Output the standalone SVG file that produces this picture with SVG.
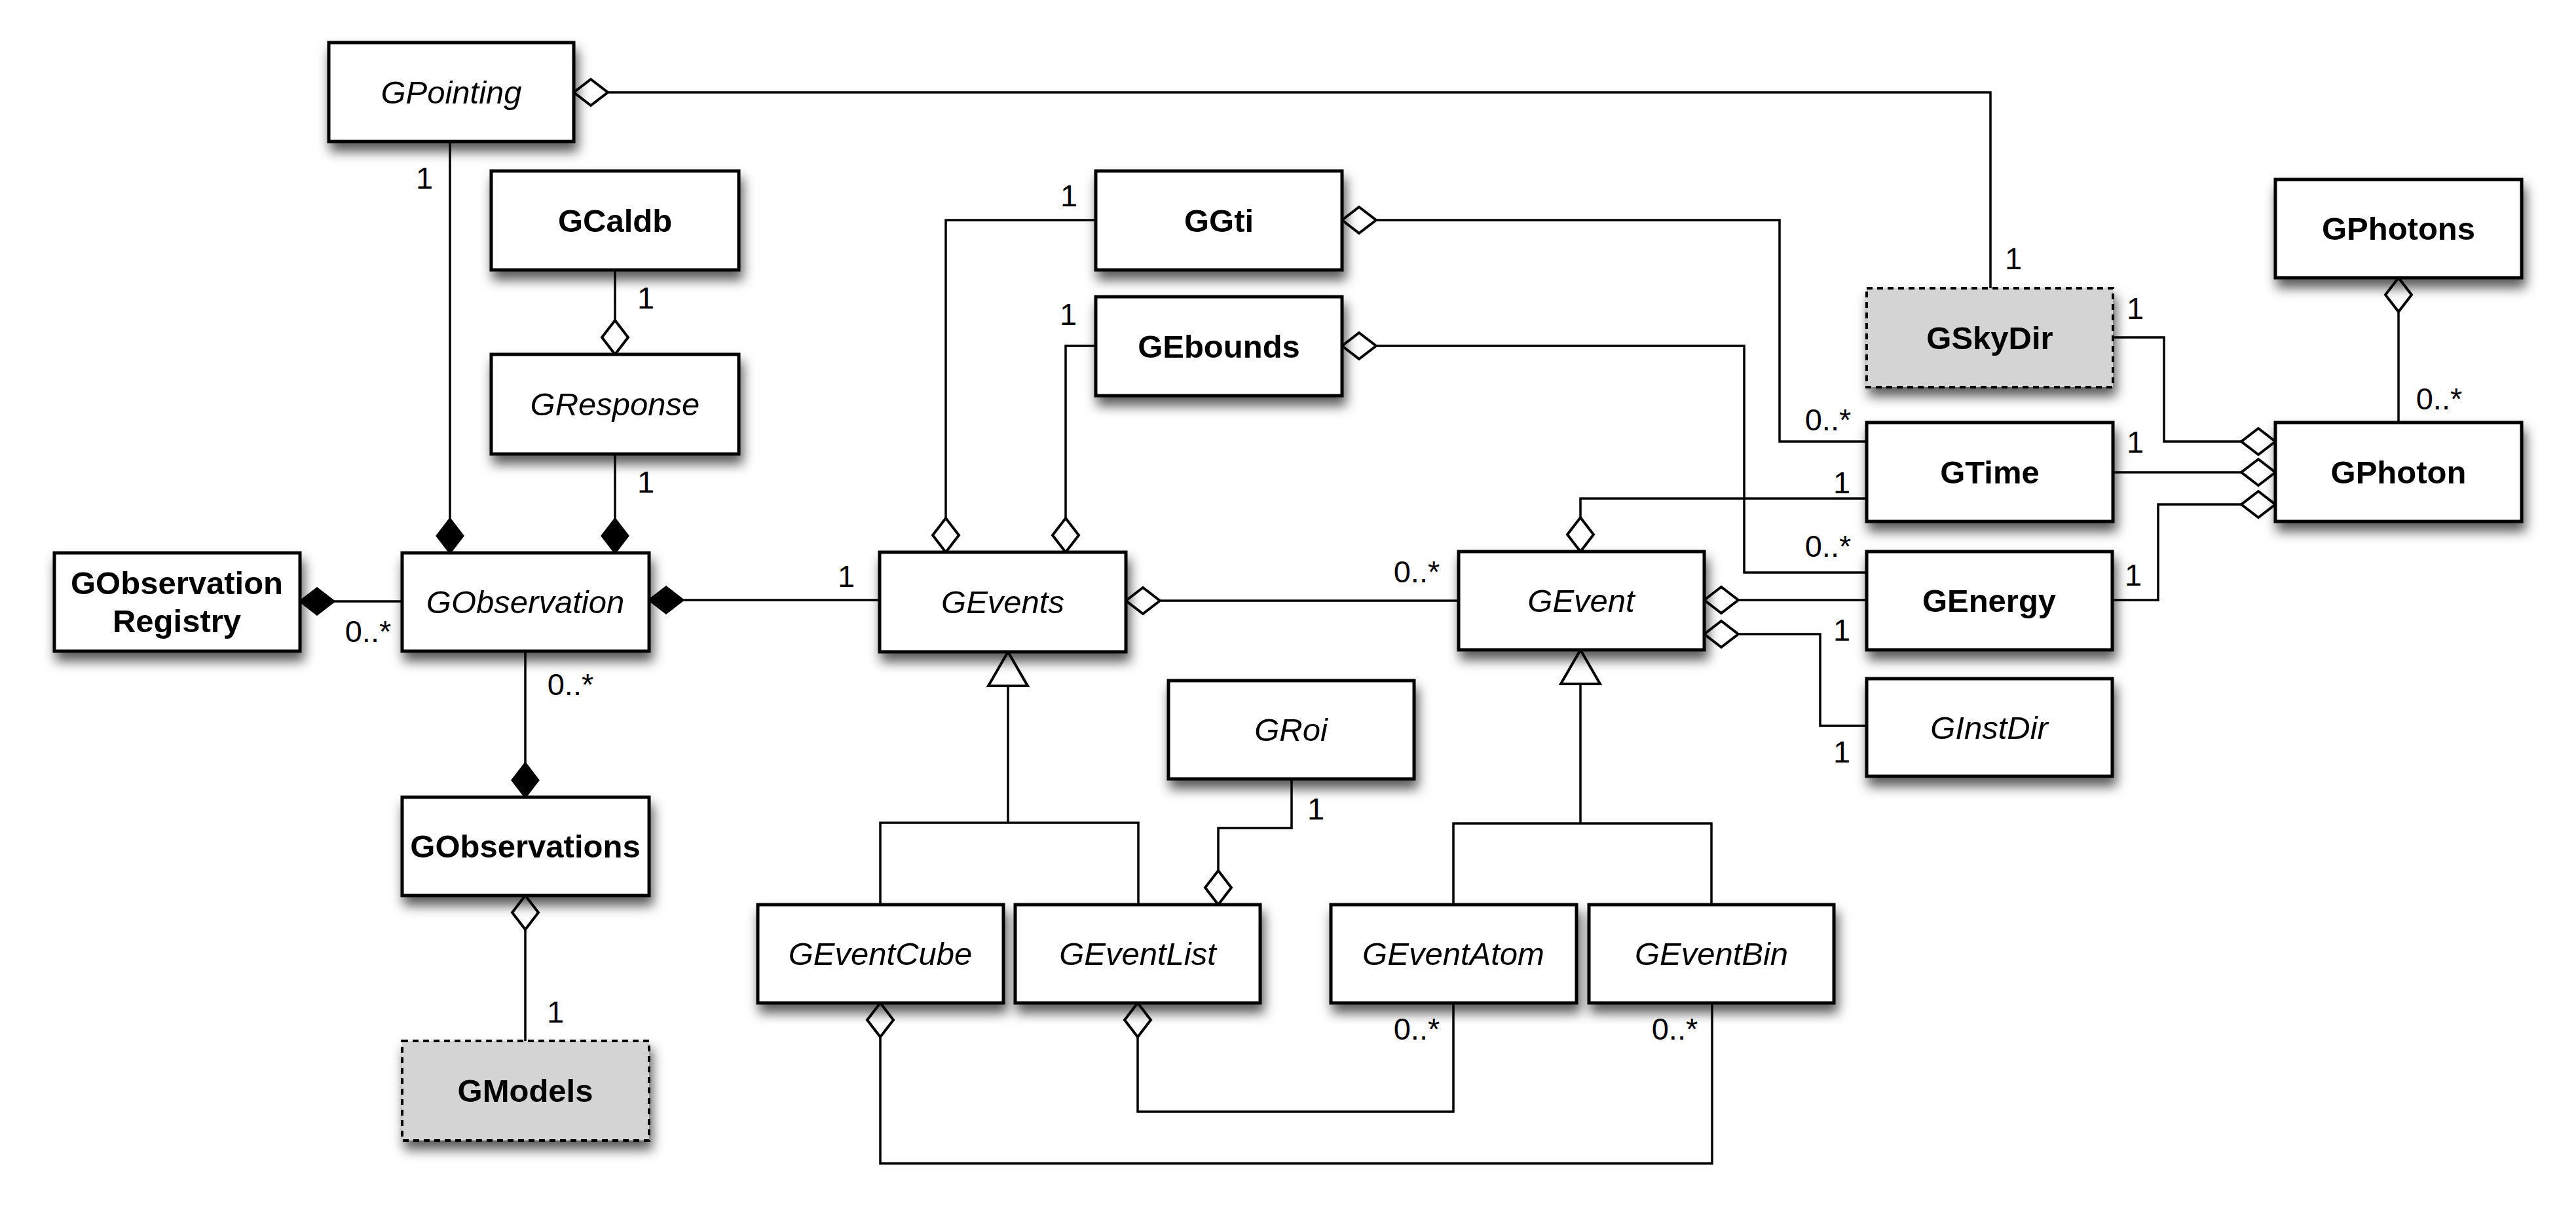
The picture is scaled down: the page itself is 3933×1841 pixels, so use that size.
<svg xmlns="http://www.w3.org/2000/svg" width="3933" height="1841" viewBox="0 0 3933 1841">
  <style>
    .box { fill: #ffffff; stroke: #000000; stroke-width: 5; filter: url(#shadow); }
    .ext { fill: #d4d4d4; stroke: #000000; stroke-width: 4; stroke-dasharray: 9 7; filter: url(#shadow); }
    .name { font-family: "Liberation Sans", Arial, Helvetica, sans-serif; font-size: 49px; text-anchor: middle; fill: #000000; }
    .bold { font-weight: bold; }
    .abstract { font-style: italic; }
    .mult { font-family: "Liberation Sans", Arial, Helvetica, sans-serif; font-size: 47px; text-anchor: middle; fill: #000000; }
    .link { fill: none; stroke: #000000; stroke-width: 3.5; stroke-linejoin: miter; }
    .agg { marker-start: url(#aggregation); }
    .comp { marker-start: url(#composition); }
    .gen { marker-start: url(#generalization); }
  </style>
  <defs>
    <filter id="shadow" x="-10%" y="-20%" width="130%" height="160%">
      <feDropShadow dx="4" dy="13" stdDeviation="9" flood-color="#000000" flood-opacity="0.65"/>
    </filter>
    <!-- hollow diamond: whole-part aggregation -->
    <marker id="aggregation" markerUnits="userSpaceOnUse" orient="auto" refX="0" refY="0" markerWidth="60" markerHeight="60" style="overflow:visible">
      <path d="M0,0 L26,-20 L52,0 L26,20 Z" fill="#ffffff" stroke="#000000" stroke-width="4"/>
    </marker>
    <!-- filled diamond: composition -->
    <marker id="composition" markerUnits="userSpaceOnUse" orient="auto" refX="0" refY="0" markerWidth="60" markerHeight="60" style="overflow:visible">
      <path d="M0,0 L26,-20 L52,0 L26,20 Z" fill="#000000" stroke="#000000" stroke-width="3"/>
    </marker>
    <!-- hollow triangle: inheritance -->
    <marker id="generalization" markerUnits="userSpaceOnUse" orient="auto" refX="0" refY="0" markerWidth="60" markerHeight="70" style="overflow:visible">
      <path d="M0,0 L52,-30 L52,30 Z" fill="#ffffff" stroke="#000000" stroke-width="4"/>
    </marker>
  </defs>

  <rect width="3933" height="1841" fill="#ffffff"/>

  <!-- connectors -->
  <g id="connectors">
    <path class="link agg" d="M876,141 H3039 V440"/>
    <path class="link comp" d="M687,844 V216"/>
    <path class="link agg" d="M939,541 V412"/>
    <path class="link comp" d="M939,844 V693"/>
    <path class="link comp" d="M458,918 H614"/>
    <path class="link comp" d="M991,916 H1343"/>
    <path class="link comp" d="M802,1217 V994"/>
    <path class="link agg" d="M802,1367 V1589"/>
    <path class="link agg" d="M1444,843 V336 H1673"/>
    <path class="link agg" d="M1627,843 V528 H1673"/>
    <path class="link agg" d="M2049,336 H2717 V674 H2850"/>
    <path class="link agg" d="M2049,528 H2663 V874 H2850"/>
    <path class="link agg" d="M1719,917 H2227"/>
    <path class="link agg" d="M2413,842 V761 H2850"/>
    <path class="link agg" d="M2602,916 H2850"/>
    <path class="link agg" d="M2602,968 H2779 V1108 H2850"/>
    <path class="link agg" d="M3474,674 H3304 V515 H3226"/>
    <path class="link agg" d="M3474,721 H3226"/>
    <path class="link agg" d="M3474,770 H3295 V916 H3226"/>
    <path class="link agg" d="M3662,424 V645"/>
    <path class="link gen" d="M1539,995 V1256"/>
    <path class="link" d="M1344,1381 V1256 H1738 V1381"/>
    <path class="link gen" d="M2413,992 V1257"/>
    <path class="link" d="M2219,1381 V1257 H2613 V1381"/>
    <path class="link agg" d="M1860,1381 V1264 H1972 V1189"/>
    <path class="link agg" d="M1344,1531 V1776 H2614 V1531"/>
    <path class="link agg" d="M1737,1531 V1697 H2219 V1531"/>

    <!-- multiplicities -->
    <text class="mult" x="648" y="288">1</text>
    <text class="mult" x="986" y="471">1</text>
    <text class="mult" x="986" y="752">1</text>
    <text class="mult" x="562" y="980">0..*</text>
    <text class="mult" x="871" y="1061">0..*</text>
    <text class="mult" x="848" y="1561">1</text>
    <text class="mult" x="1292" y="896">1</text>
    <text class="mult" x="1632" y="315">1</text>
    <text class="mult" x="1631" y="496">1</text>
    <text class="mult" x="2163" y="889">0..*</text>
    <text class="mult" x="3074" y="411">1</text>
    <text class="mult" x="3260" y="487">1</text>
    <text class="mult" x="2791" y="657">0..*</text>
    <text class="mult" x="3260" y="691">1</text>
    <text class="mult" x="2812" y="753">1</text>
    <text class="mult" x="2791" y="850">0..*</text>
    <text class="mult" x="3257" y="894">1</text>
    <text class="mult" x="2812" y="978">1</text>
    <text class="mult" x="2812" y="1164">1</text>
    <text class="mult" x="3724" y="625">0..*</text>
    <text class="mult" x="2009" y="1251">1</text>
    <text class="mult" x="2163" y="1587">0..*</text>
    <text class="mult" x="2557" y="1587">0..*</text>
  </g>

  <!-- classes -->
  <g id="GPointing">
    <rect class="box" x="502" y="65" width="374" height="151"/>
    <text class="name abstract" x="689" y="158">GPointing</text>
  </g>
  <g id="GCaldb">
    <rect class="box" x="750" y="261" width="378" height="151"/>
    <text class="name bold" x="939" y="354">GCaldb</text>
  </g>
  <g id="GResponse">
    <rect class="box" x="750" y="541" width="378" height="152"/>
    <text class="name abstract" x="939" y="634">GResponse</text>
  </g>
  <g id="GObservationRegistry">
    <rect class="box" x="83" y="844" width="375" height="150"/>
    <text class="name bold" x="270" y="907">GObservation</text>
    <text class="name bold" x="270" y="965">Registry</text>
  </g>
  <g id="GObservation">
    <rect class="box" x="614" y="844" width="377" height="150"/>
    <text class="name abstract" x="802" y="936">GObservation</text>
  </g>
  <g id="GObservations">
    <rect class="box" x="614" y="1217" width="377" height="150"/>
    <text class="name bold" x="802" y="1309">GObservations</text>
  </g>
  <g id="GModels">
    <rect class="ext" x="614" y="1589" width="377" height="152"/>
    <text class="name bold" x="802" y="1682">GModels</text>
  </g>
  <g id="GGti">
    <rect class="box" x="1673" y="261" width="376" height="151"/>
    <text class="name bold" x="1861" y="354">GGti</text>
  </g>
  <g id="GEbounds">
    <rect class="box" x="1673" y="453" width="376" height="151"/>
    <text class="name bold" x="1861" y="546">GEbounds</text>
  </g>
  <g id="GEvents">
    <rect class="box" x="1343" y="843" width="376" height="152"/>
    <text class="name abstract" x="1531" y="936">GEvents</text>
  </g>
  <g id="GEvent">
    <rect class="box" x="2227" y="842" width="375" height="150"/>
    <text class="name abstract" x="2414" y="934">GEvent</text>
  </g>
  <g id="GRoi">
    <rect class="box" x="1784" y="1039" width="375" height="150"/>
    <text class="name abstract" x="1971" y="1131">GRoi</text>
  </g>
  <g id="GEventCube">
    <rect class="box" x="1157" y="1381" width="375" height="150"/>
    <text class="name abstract" x="1344" y="1473">GEventCube</text>
  </g>
  <g id="GEventList">
    <rect class="box" x="1550" y="1381" width="374" height="150"/>
    <text class="name abstract" x="1737" y="1473">GEventList</text>
  </g>
  <g id="GEventAtom">
    <rect class="box" x="2032" y="1381" width="375" height="150"/>
    <text class="name abstract" x="2219" y="1473">GEventAtom</text>
  </g>
  <g id="GEventBin">
    <rect class="box" x="2426" y="1381" width="374" height="150"/>
    <text class="name abstract" x="2613" y="1473">GEventBin</text>
  </g>
  <g id="GSkyDir">
    <rect class="ext" x="2850" y="440" width="376" height="151"/>
    <text class="name bold" x="3038" y="533">GSkyDir</text>
  </g>
  <g id="GTime">
    <rect class="box" x="2850" y="645" width="376" height="151"/>
    <text class="name bold" x="3038" y="738">GTime</text>
  </g>
  <g id="GEnergy">
    <rect class="box" x="2850" y="842" width="375" height="150"/>
    <text class="name bold" x="3037" y="934">GEnergy</text>
  </g>
  <g id="GInstDir">
    <rect class="box" x="2850" y="1036" width="375" height="149"/>
    <text class="name abstract" x="3037" y="1128">GInstDir</text>
  </g>
  <g id="GPhotons">
    <rect class="box" x="3474" y="274" width="376" height="150"/>
    <text class="name bold" x="3662" y="366">GPhotons</text>
  </g>
  <g id="GPhoton">
    <rect class="box" x="3474" y="645" width="376" height="151"/>
    <text class="name bold" x="3662" y="738">GPhoton</text>
  </g>
</svg>
